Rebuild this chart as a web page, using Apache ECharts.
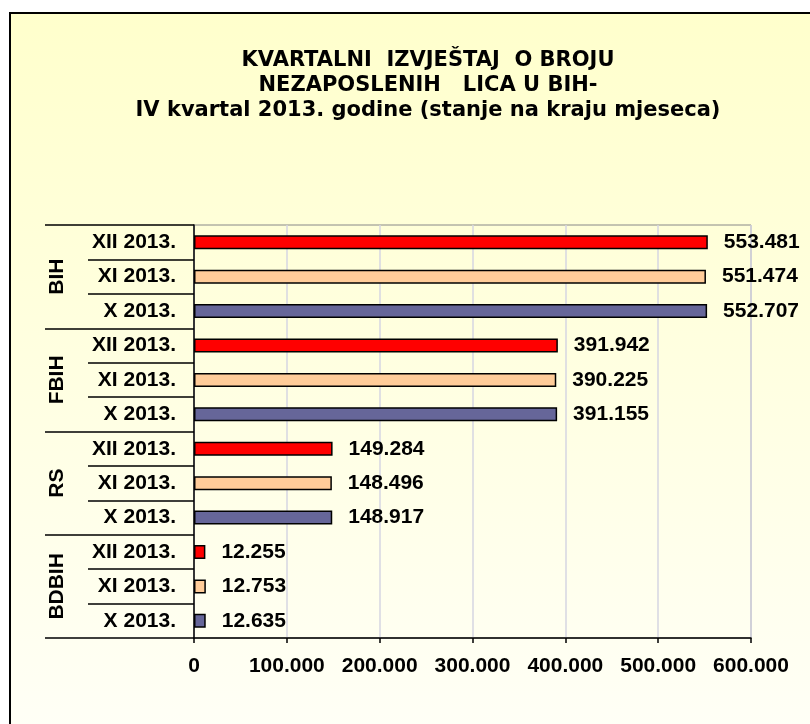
<!DOCTYPE html>
<html>
<head>
<meta charset="utf-8">
<script src="https://cdn.jsdelivr.net/npm/echarts@6/dist/echarts.min.js"></script>
<style>
  html, body { margin: 0; padding: 0; background: #fff; }
  #chart { width: 810px; height: 724px; }
</style>
</head>
<body>
<div id="chart"></div>
<script>
// podaci
const groups = ['BIH', 'FBIH', 'RS', 'BDBIH']
const months = ['XII 2013.', 'XI 2013.', 'X 2013.']
const bih = [553481, 551474, 552707]
const fbih = [391942, 390225, 391155]
const rs = [149284, 148496, 148917]
const bdbih = [12255, 12753, 12635]
const xTicks = [0, 100000, 200000, 300000, 400000, 500000, 600000]

// boje po mjesecu
const colors = ['#FF0000', '#FFCC99', '#666699']
const font = 'Liberation Sans, Arial, sans-serif'

const fmt = (v) => String(v).replace(/\B(?=(\d{3})+(?!\d))/g, '.')

const cats = []
const vals = []
;[bih, fbih, rs, bdbih].forEach((arr) => {
  arr.forEach((v, i) => {
    cats.push(months[i])
    vals.push({ value: v, itemStyle: { color: colors[i] } })
  })
})

const chart = echarts.init(document.getElementById('chart'))
chart.setOption({
  animation: false,
  graphic: [
    {
      type: 'rect',
      z: -100,
      silent: true,
      shape: { x: 10, y: 13, width: 900, height: 800 },
      style: {
        fill: new echarts.graphic.LinearGradient(0, 0, 0, 1, [
          { offset: 0, color: '#FFFFCC' },
          { offset: 1, color: '#FFFFFB' },
        ]),
        stroke: '#000',
        lineWidth: 2,
      },
    },
  ],
  title: {
    text: 'KVARTALNI  IZVJEŠTAJ  O BROJU\nNEZAPOSLENIH   LICA U BIH-\nIV kvartal 2013. godine (stanje na kraju mjeseca)',
    left: 423,
    top: 43,
    textAlign: 'center',
    textStyle: {
      fontFamily: 'DejaVu Sans, sans-serif',
      fontSize: 21,
      fontWeight: 'bold',
      lineHeight: 25,
      color: '#000',
    },
  },
  grid: {
    left: 194,
    right: 59,
    top: 225,
    bottom: 86,
    show: true,
    borderColor: '#888',
    borderWidth: 1,
  },
  xAxis: {
    type: 'value',
    min: xTicks[0],
    max: xTicks[xTicks.length - 1],
    interval: xTicks[1] - xTicks[0],
    axisLine: { show: true, lineStyle: { color: '#000', width: 1.5 } },
    axisTick: { show: true, length: 5, lineStyle: { color: '#000', width: 1.5 } },
    splitLine: { show: true, lineStyle: { color: '#D6D6E2', width: 1.5 } },
    axisLabel: {
      margin: 18,
      fontFamily: font,
      fontSize: 21,
      fontWeight: 'bold',
      color: '#000',
      formatter: fmt,
    },
  },
  yAxis: [
    {
      type: 'category',
      inverse: true,
      data: cats,
      axisLine: { show: true, lineStyle: { color: '#000', width: 1.5 } },
      axisTick: { show: true, length: 106, lineStyle: { color: '#000', width: 1.5 } },
      splitLine: { show: false },
      axisLabel: {
        margin: 18,
        fontFamily: font,
        fontSize: 21,
        fontWeight: 'bold',
        color: '#000',
      },
    },
    {
      type: 'category',
      inverse: true,
      position: 'left',
      data: groups,
      axisLine: { show: false },
      axisTick: { show: true, length: 149, lineStyle: { color: '#000', width: 1.5 } },
      splitLine: { show: false },
      axisLabel: {
        rotate: 90,
        margin: 126,
        fontFamily: font,
        fontSize: 21,
        fontWeight: 'bold',
        color: '#000',
      },
    },
  ],
  series: [
    {
      type: 'bar',
      yAxisIndex: 0,
      data: vals,
      barWidth: 14,
      itemStyle: { borderColor: '#000', borderWidth: 1.5 },
      label: {
        show: true,
        position: 'right',
        distance: 16,
        fontFamily: font,
        fontSize: 21,
        fontWeight: 'bold',
        color: '#000',
        formatter: (p) => fmt(p.value),
      },
    },
  ],
})
</script>
</body>
</html>
